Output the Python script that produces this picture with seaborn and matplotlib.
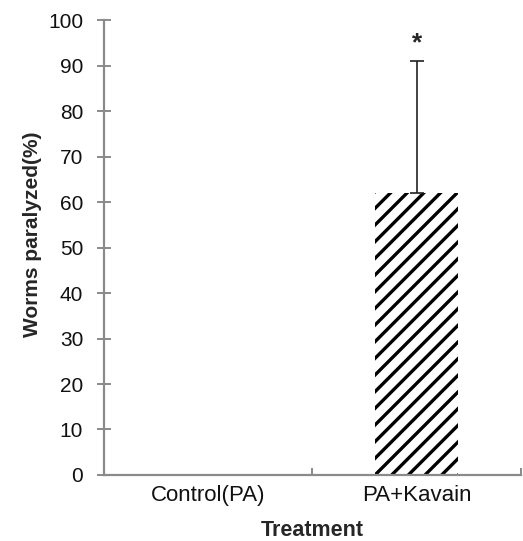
import seaborn as sns
import matplotlib.pyplot as plt
import pandas as pd

treatments = ["Control(PA)", "PA+Kavain"]
paralyzed = [0, 62]
err_upper = [0, 29]
significance = ["", "*"]

sns.set_style("white")
plt.rcParams['font.family'] = ['Liberation Sans', 'DejaVu Sans']
plt.rcParams['hatch.linewidth'] = 2.4

df = pd.DataFrame({"Treatment": treatments, "Worms paralyzed(%)": paralyzed})

fig = plt.figure(figsize=(5.23, 5.41), dpi=100)
ax = fig.add_axes([0.199, 0.122, 0.797, 0.841])

sns.barplot(data=df, x="Treatment", y="Worms paralyzed(%)", color="white",
            width=0.4, errorbar=None, ax=ax)
for p in ax.patches:
    p.set_facecolor("white")
    p.set_edgecolor("black")
    p.set_linewidth(0)
    if p.get_height() > 0:
        p.set_hatch("//")

ax.errorbar(range(len(treatments)), paralyzed, yerr=[[0] * len(err_upper), err_upper],
            fmt="none", ecolor="#222222", elinewidth=1.2, capsize=5, capthick=1.2)
for i, s in enumerate(significance):
    if s:
        ax.text(i, paralyzed[i] + err_upper[i] + 1.2, s, ha="center", va="bottom",
                fontsize=19, fontweight="bold")

ax.set_xlim(-0.5, 1.5)
ax.set_ylim(0, 100)
ax.set_yticks(range(0, 101, 10))
ax.set_xticks([0.5, 1.5], minor=True)

for side in ["top", "right"]:
    ax.spines[side].set_visible(False)
for side in ["left", "bottom"]:
    ax.spines[side].set_color("#8a8a8a")
    ax.spines[side].set_linewidth(1.6)

ax.tick_params(axis="y", which="major", direction="inout", length=10, width=1.4,
               color="#8a8a8a", labelsize=15, labelcolor="#111111", pad=10, left=True)
ax.tick_params(axis="x", which="major", length=0, labelsize=16, labelcolor="#111111", pad=7)
ax.tick_params(axis="x", which="minor", direction="in", length=5, width=1.4,
               color="#8a8a8a", bottom=True)

ax.set_xlabel("Treatment", fontsize=15.5, fontweight="bold", labelpad=10)
ax.set_ylabel("Worms paralyzed(%)", fontsize=15, fontweight="bold")
ax.yaxis.set_label_coords(-0.15, 0.53)

fig.savefig("out.png", dpi=100)
